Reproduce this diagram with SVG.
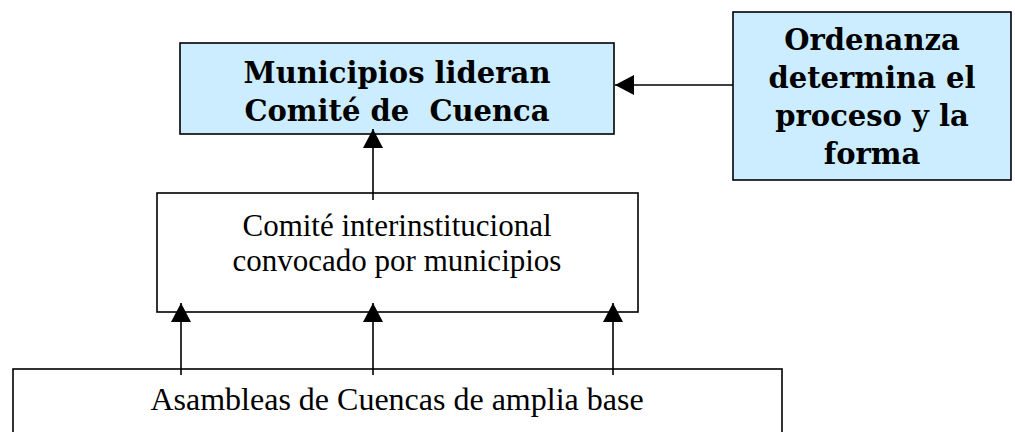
<svg xmlns="http://www.w3.org/2000/svg" width="1015" height="432" viewBox="0 0 1015 432">
<style>
.box{stroke:#000;stroke-width:1.6}
.blue{fill:#CCECFF}
.white{fill:#fff}
.bold{font-family:"DejaVu Serif","Liberation Serif",serif;font-weight:bold;font-size:29px;fill:#000;text-anchor:middle}
.times{font-family:"Liberation Serif","Times New Roman",serif;font-size:31px;fill:#000;text-anchor:middle}
.big{font-size:32px}
.conn{stroke:#000;stroke-width:1.6;fill:none;marker-end:url(#ah)}
</style>
<defs>
<marker id="ah" markerUnits="userSpaceOnUse" markerWidth="19" markerHeight="20" refX="19" refY="10" orient="auto">
<path d="M0,0 L19,10 L0,20 z" fill="#000"/>
</marker>
</defs>
<rect width="1015" height="432" fill="#fff"/>
<g id="asambleas">
<rect class="box white" x="13" y="369" width="769" height="80"/>
<text class="times big" x="397" y="410">Asambleas de Cuencas de amplia base</text>
</g>
<g id="comite-interinstitucional">
<rect class="box white" x="157" y="193" width="481" height="119"/>
<text class="times" x="397" y="236">Comité interinstitucional</text>
<text class="times" x="397" y="271">convocado por municipios</text>
</g>
<g id="municipios">
<rect class="box blue" x="180" y="43" width="434" height="91"/>
<text class="bold" x="397" y="83">Municipios lideran</text>
<text class="bold" x="397" y="121" xml:space="preserve">Comité de  Cuenca</text>
</g>
<g id="ordenanza">
<rect class="box blue" x="733" y="12" width="278" height="168"/>
<text class="bold" x="872" y="50">Ordenanza</text>
<text class="bold" x="872" y="88">determina el</text>
<text class="bold" x="872" y="126">proceso y la</text>
<text class="bold" x="872" y="164">forma</text>
</g>
<g id="connectors">
<line class="conn" x1="733" y1="85" x2="615" y2="85"/>
<line class="conn" x1="373" y1="200" x2="373" y2="129"/>
<line class="conn" x1="181" y1="375" x2="181" y2="303"/>
<line class="conn" x1="373" y1="375" x2="373" y2="303"/>
<line class="conn" x1="613" y1="375" x2="613" y2="303"/>
</g>
</svg>
